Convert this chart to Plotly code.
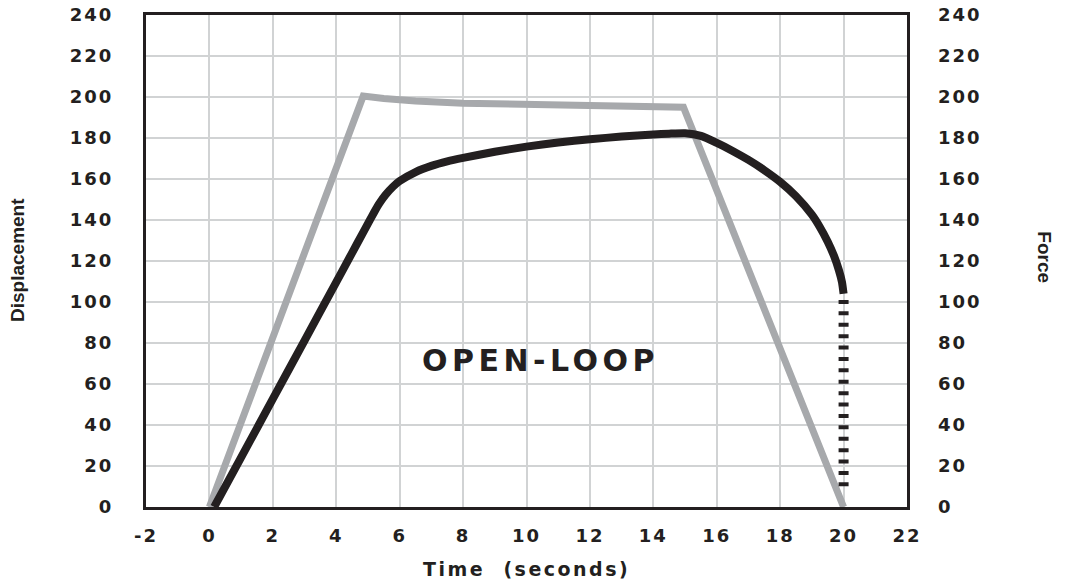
import plotly.graph_objects as go

# ---- data -------------------------------------------------------------
# Force (grey): ramp up, slight relaxation, ramp down
force_t = [0, 4.85, 5.5, 6.5, 8, 10, 12, 14, 14.95, 20]
force_v = [0, 200.5, 199.3, 198.0, 197.0, 196.3, 195.8, 195.4, 195.0, 0]

# Displacement (black): solid portion
disp_t = [0.15, 1, 2, 3, 4, 4.5, 4.85, 5.05, 5.2, 5.36, 5.55, 5.78, 6.0, 6.5,
          7, 7.5, 8, 9, 10, 11, 12, 13, 14, 14.5, 15, 15.5, 16, 16.5, 17,
          17.5, 18, 18.5, 19, 19.25, 19.5, 19.7, 19.85, 19.95, 20]
disp_v = [0, 24.2, 52.7, 81.2, 109.7, 124.0, 134.0, 139.7, 143.9, 148.1, 152.2,
          156.1, 159.0, 163.4, 166.4, 168.6, 170.3, 173.3, 175.8, 177.8, 179.4,
          180.7, 181.7, 182.1, 182.3, 181.0, 177.6, 173.7, 169.3, 164.3, 158.6,
          151.6, 142.6, 136.6, 129.4, 122.4, 115.6, 109.6, 104.0]

# Displacement (black): dotted drop at the end of the test
drop_t = [20, 20]
drop_v = [101, 9.5]

x_ticks = [-2, 0, 2, 4, 6, 8, 10, 12, 14, 16, 18, 20, 22]
y_ticks = [0, 20, 40, 60, 80, 100, 120, 140, 160, 180, 200, 220, 240]

INK = "#231F20"
GREY = "#A7A9AC"
GRID = "#D1D3D4"
WIDE = "DejaVu Sans, Verdana, sans-serif"
NARROW = "Liberation Sans Narrow, Arial Narrow, Liberation Sans, Arial, sans-serif"


def spaced(s, px):
    return f'<span style="letter-spacing:{px}px">{s}</span>'


fig = go.Figure()

fig.add_trace(go.Scatter(x=force_t, y=force_v, mode="lines",
                         line=dict(color=GREY, width=7),
                         hoverinfo="skip", showlegend=False))
fig.add_trace(go.Scatter(x=disp_t, y=disp_v, mode="lines",
                         line=dict(color=INK, width=8, shape="spline",
                                   smoothing=0.5),
                         hoverinfo="skip", showlegend=False))
fig.add_trace(go.Scatter(x=drop_t, y=drop_v, mode="lines",
                         line=dict(color=INK, width=10, dash="4px,7.4px"),
                         hoverinfo="skip", showlegend=False))
# invisible trace so the right-hand axis is drawn
fig.add_trace(go.Scatter(x=[0], y=[0], yaxis="y2", mode="markers",
                         marker=dict(opacity=0), hoverinfo="skip",
                         showlegend=False))

tick_font = dict(family=WIDE, size=18, color=INK, weight=700)

fig.update_layout(
    width=1065, height=584,
    margin=dict(l=146, r=158, t=15, b=77, autoexpand=False),
    paper_bgcolor="white", plot_bgcolor="white",
    xaxis=dict(
        range=[-2, 22], tickvals=x_ticks,
        ticktext=[spaced(str(v), 2) for v in x_ticks],
        tickfont=tick_font, ticks="", ticklabelstandoff=10, automargin=False,
        showgrid=True, gridcolor=GRID, gridwidth=2, zeroline=False,
        showline=True, linecolor=INK, linewidth=3, mirror=True,
    ),
    yaxis=dict(
        range=[0, 240], tickvals=y_ticks,
        ticktext=[spaced(str(v), 2) for v in y_ticks],
        tickfont=tick_font, ticks="", ticklabelstandoff=26, automargin=False,
        showgrid=True, gridcolor=GRID, gridwidth=2, zeroline=False,
        showline=True, linecolor=INK, linewidth=3, mirror=True,
    ),
    yaxis2=dict(
        range=[0, 240], tickvals=y_ticks,
        ticktext=[spaced(str(v), 2) for v in y_ticks],
        tickfont=tick_font, ticks="", ticklabelstandoff=30, automargin=False,
        overlaying="y", side="right", showgrid=False, zeroline=False,
        showline=False,
    ),
    annotations=[
        dict(text=spaced("OPEN-LOOP", 4.5), x=10.43, y=71.7, xref="x", yref="y",
             showarrow=False, xanchor="center", yanchor="middle",
             font=dict(family=WIDE, size=30, color=INK, weight=700)),
        dict(text=spaced("Time  (seconds)", 2.5), x=0.5, y=-0.126,
             xref="paper", yref="paper", showarrow=False,
             xanchor="center", yanchor="middle",
             font=dict(family=WIDE, size=19, color=INK, weight=700)),
        dict(text="Displacement", x=-0.1695, y=0.502, xref="paper",
             yref="paper", showarrow=False, textangle=-90,
             xanchor="center", yanchor="middle",
             font=dict(family=NARROW, size=19, color=INK, weight=700)),
        dict(text="Force", x=1.181, y=0.508, xref="paper", yref="paper",
             showarrow=False, textangle=90,
             xanchor="center", yanchor="middle",
             font=dict(family=NARROW, size=19, color=INK, weight=700)),
    ],
)

fig.write_html("out.html")
